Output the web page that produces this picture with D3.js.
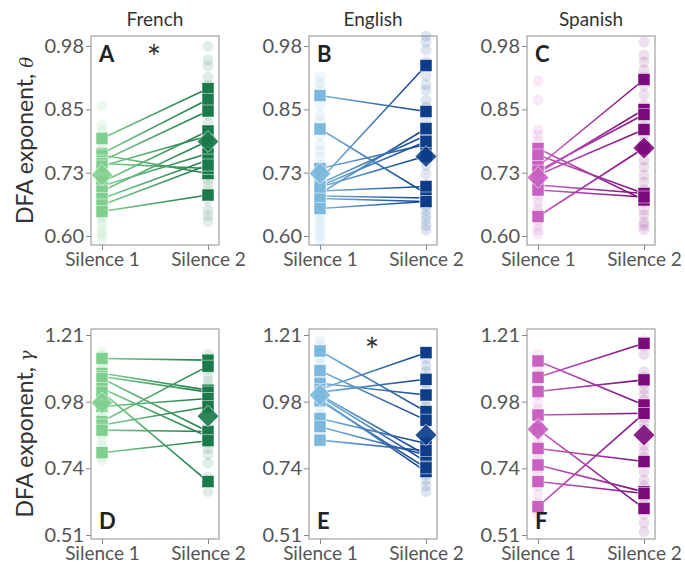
<!DOCTYPE html>
<html lang="en">
<head>
<meta charset="UTF-8">
<title>DFA exponents</title>
<script src="https://cdn.jsdelivr.net/npm/d3@7"></script>
<style>
  body { margin: 0; background: #fff; }
  text { font-family: Lato, "Open Sans", sans-serif; }
</style>
</head>
<body>
<script>
// ---- data ----
var conditions = ["Silence 1", "Silence 2"];
var languages = ["French", "English", "Spanish"];
var thetaTicks = [0.60, 0.7267, 0.8533, 0.98];
var gammaTicks = [0.51, 0.7433, 0.9767, 1.21];

// theta, subjects (Silence 1 / Silence 2)
var frTheta1 = [0.795, 0.765, 0.762, 0.750, 0.745, 0.740, 0.708, 0.700, 0.690, 0.675, 0.662, 0.649];
var frTheta2 = [0.895, 0.873, 0.725, 0.850, 0.735, 0.800, 0.810, 0.765, 0.790, 0.752, 0.742, 0.682];
var enTheta1 = [0.881, 0.814, 0.735, 0.712, 0.705, 0.700, 0.690, 0.685, 0.680, 0.675, 0.655, 0.698];
var enTheta2 = [0.849, 0.685, 0.783, 0.941, 0.801, 0.789, 0.699, 0.815, 0.676, 0.669, 0.669, 0.760];
var esTheta1 = [0.775, 0.762, 0.739, 0.726, 0.722, 0.702, 0.692, 0.639, 0.730];
var esTheta2 = [0.672, 0.685, 0.913, 0.853, 0.813, 0.685, 0.678, 0.776, 0.843];
// gamma
var frGamma1 = [1.128, 1.076, 1.065, 1.058, 1.023, 1.010, 0.960, 0.907, 0.895, 0.877, 0.798];
var frGamma2 = [1.122, 1.017, 1.010, 0.872, 0.854, 0.697, 0.988, 1.101, 0.959, 0.872, 0.840];
var enGamma1 = [1.154, 1.085, 1.041, 1.020, 1.010, 1.000, 0.995, 0.985, 0.980, 0.918, 0.889, 0.842];
var enGamma2 = [0.942, 0.912, 1.000, 1.148, 1.055, 0.790, 0.767, 0.732, 0.745, 0.830, 0.790, 0.805];
var esGamma1 = [1.119, 1.062, 1.012, 0.930, 0.880, 0.813, 0.755, 0.697, 0.609];
var esGamma2 = [0.965, 1.181, 1.053, 0.936, 0.603, 0.767, 0.661, 0.655, 0.936];

// group means (diamonds)
var frThetaMean = [0.722, 0.789];
var enThetaMean = [0.725, 0.759];
var esThetaMean = [0.717, 0.776];
var frGammaMean = [0.973, 0.926];
var enGammaMean = [1.000, 0.860];
var esGammaMean = [0.880, 0.860];

// individual trials (faint circles)
var frThetaTrials1 = [0.86, 0.822, 0.81, 0.80, 0.788, 0.776, 0.768, 0.755, 0.742, 0.73, 0.718, 0.71, 0.697, 0.688, 0.676, 0.668, 0.655, 0.642, 0.634, 0.625, 0.612, 0.604, 0.595];
var frThetaTrials2 = [0.98, 0.952, 0.94, 0.918, 0.902, 0.884, 0.861, 0.842, 0.826, 0.812, 0.798, 0.782, 0.771, 0.758, 0.744, 0.722, 0.712, 0.703, 0.69, 0.672, 0.652, 0.641, 0.63];
var enThetaTrials1 = [0.918, 0.906, 0.893, 0.862, 0.843, 0.828, 0.802, 0.784, 0.772, 0.758, 0.742, 0.724, 0.712, 0.694, 0.672, 0.662, 0.646, 0.634, 0.622, 0.612, 0.601, 0.59];
var enThetaTrials2 = [1.0, 0.988, 0.972, 0.948, 0.921, 0.903, 0.892, 0.871, 0.858, 0.832, 0.806, 0.782, 0.764, 0.742, 0.724, 0.703, 0.684, 0.662, 0.652, 0.641, 0.632, 0.621, 0.612];
var esThetaTrials1 = [0.91, 0.872, 0.812, 0.802, 0.79, 0.768, 0.742, 0.728, 0.712, 0.702, 0.688, 0.679, 0.668, 0.656, 0.648, 0.632, 0.621, 0.612, 0.604];
var esThetaTrials2 = [0.988, 0.962, 0.948, 0.932, 0.918, 0.901, 0.882, 0.862, 0.848, 0.831, 0.818, 0.802, 0.788, 0.768, 0.752, 0.738, 0.722, 0.708, 0.692, 0.668, 0.652, 0.642, 0.628, 0.621, 0.613];
var frGammaTrials1 = [1.152, 1.138, 1.118, 1.098, 1.082, 1.061, 1.042, 1.022, 1.003, 0.982, 0.961, 0.942, 0.921, 0.902, 0.884, 0.862, 0.842, 0.823, 0.801, 0.784, 0.772];
var frGammaTrials2 = [1.142, 1.128, 1.108, 1.092, 1.068, 1.048, 1.031, 1.012, 0.992, 0.968, 0.951, 0.932, 0.912, 0.892, 0.868, 0.851, 0.832, 0.812, 0.792, 0.762, 0.712, 0.694, 0.662];
var enGammaTrials1 = [1.19, 1.172, 1.152, 1.128, 1.111, 1.088, 1.071, 1.048, 1.031, 1.012, 0.992, 0.971, 0.952, 0.931, 0.912, 0.892, 0.871, 0.852];
var enGammaTrials2 = [1.152, 1.128, 1.102, 1.082, 1.061, 1.042, 1.021, 1.002, 0.982, 0.961, 0.942, 0.921, 0.902, 0.881, 0.862, 0.842, 0.821, 0.802, 0.781, 0.762, 0.741, 0.722, 0.702, 0.682, 0.662];
var esGammaTrials1 = [1.142, 1.122, 1.098, 1.071, 1.052, 1.031, 1.002, 0.972, 0.951, 0.922, 0.902, 0.872, 0.842, 0.822, 0.792, 0.772, 0.742, 0.722, 0.702, 0.682, 0.652, 0.622, 0.601, 0.582];
var esGammaTrials2 = [1.19, 1.172, 1.142, 1.082, 1.062, 1.041, 1.021, 1.002, 0.982, 0.961, 0.942, 0.921, 0.902, 0.882, 0.852, 0.822, 0.802, 0.782, 0.762, 0.732, 0.702, 0.682, 0.662, 0.642, 0.622, 0.601, 0.582, 0.552, 0.522];

var palette = {
  French:  ["#7fcf8e", "#1b7a49"],
  English: ["#7cb8de", "#0b3d8b"],
  Spanish: ["#c860c2", "#7b0a7c"]
};

var panels = [
  {id: "A", lang: "French",  row: 0, s1: frTheta1, s2: frTheta2, mean: frThetaMean, t1: frThetaTrials1, t2: frThetaTrials2, star: true},
  {id: "B", lang: "English", row: 0, s1: enTheta1, s2: enTheta2, mean: enThetaMean, t1: enThetaTrials1, t2: enThetaTrials2},
  {id: "C", lang: "Spanish", row: 0, s1: esTheta1, s2: esTheta2, mean: esThetaMean, t1: esThetaTrials1, t2: esThetaTrials2},
  {id: "D", lang: "French",  row: 1, s1: frGamma1, s2: frGamma2, mean: frGammaMean, t1: frGammaTrials1, t2: frGammaTrials2},
  {id: "E", lang: "English", row: 1, s1: enGamma1, s2: enGamma2, mean: enGammaMean, t1: enGammaTrials1, t2: enGammaTrials2, star: true},
  {id: "F", lang: "Spanish", row: 1, s1: esGamma1, s2: esGamma2, mean: esGammaMean, t1: esGammaTrials1, t2: esGammaTrials2}
];

// ---- layout ----
var width = 685, height = 566;
var colLeft = [91, 309, 527];
var boxW = 128;
var rows = [
  {top: 36,  bottom: 245, domain: [0.582, 1.0],   ticks: thetaTicks, sym: "\u03b8"},
  {top: 329, bottom: 539, domain: [0.496, 1.231], ticks: gammaTicks, sym: "\u03b3"}
];

var svg = d3.select("body").append("svg")
  .attr("width", width)
  .attr("height", height);

var defs = svg.append("defs");

var x = d3.scalePoint().domain(conditions).range([11, 117]);

// column titles
languages.forEach(function(l, i) {
  svg.append("text")
    .attr("x", colLeft[i] + boxW / 2)
    .attr("y", 26)
    .attr("text-anchor", "middle")
    .attr("font-size", 19)
    .attr("fill", "#333")
    .text(l);
});

// y axis titles
rows.forEach(function(r) {
  var t = svg.append("text")
    .attr("transform", "translate(33," + ((r.top + r.bottom) / 2) + ") rotate(-90)")
    .attr("text-anchor", "middle")
    .attr("font-size", 23)
    .attr("fill", "#333");
  t.append("tspan").text("DFA exponent, ");
  t.append("tspan").attr("font-family", "DejaVu Serif").attr("font-style", "italic").attr("font-size", 18).text(r.sym);
});

panels.forEach(function(p, i) {
  var col = i % 3;
  var r = rows[p.row];
  var c = palette[p.lang];
  var g = svg.append("g").attr("transform", "translate(" + colLeft[col] + ",0)");

  var y = d3.scaleLinear().domain(r.domain).range([r.bottom, r.top]);

  // frame
  g.append("rect")
    .attr("x", 0).attr("y", r.top)
    .attr("width", boxW).attr("height", r.bottom - r.top)
    .attr("fill", "none").attr("stroke", "#a0a0a0").attr("stroke-width", 1.2);

  // y axis
  var ya = g.append("g").call(d3.axisLeft(y).tickValues(r.ticks).tickFormat(d3.format(".2f")).tickSize(5).tickPadding(2));
  ya.select(".domain").remove();
  ya.selectAll(".tick line").attr("stroke", "#888");
  ya.selectAll(".tick text").attr("font-size", 20).attr("fill", "#555").attr("font-family", "Lato, sans-serif");

  // x axis
  var xa = g.append("g").attr("transform", "translate(0," + r.bottom + ")")
    .call(d3.axisBottom(x).tickSize(5).tickPadding(3));
  xa.select(".domain").remove();
  xa.selectAll(".tick line").attr("stroke", "#888");
  xa.selectAll(".tick text").attr("font-size", 19).attr("fill", "#555").attr("font-family", "Lato, sans-serif");

  // gradient for lines
  var gid = "grad" + p.id;
  var grad = defs.append("linearGradient").attr("id", gid)
    .attr("gradientUnits", "userSpaceOnUse")
    .attr("x1", x(conditions[0])).attr("x2", x(conditions[1]))
    .attr("y1", 0).attr("y2", 0);
  grad.append("stop").attr("offset", "0%").attr("stop-color", c[0]);
  grad.append("stop").attr("offset", "100%").attr("stop-color", c[1]);

  // faint trial circles
  [p.t1, p.t2].forEach(function(arr, k) {
    g.selectAll(null).data(arr).enter().append("circle")
      .attr("cx", x(conditions[k]))
      .attr("cy", function(d) { return y(d); })
      .attr("r", 5.5)
      .attr("fill", c[k])
      .attr("fill-opacity", 0.13);
  });

  // subject lines
  var pairs = p.s1.map(function(v, j) { return [v, p.s2[j]]; });
  g.selectAll(null).data(pairs).enter().append("line")
    .attr("x1", x(conditions[0])).attr("x2", x(conditions[1]))
    .attr("y1", function(d) { return y(d[0]); })
    .attr("y2", function(d) { return y(d[1]); })
    .attr("stroke", "url(#" + gid + ")")
    .attr("stroke-width", 1.6);

  // subject squares
  [p.s1, p.s2].forEach(function(arr, k) {
    g.selectAll(null).data(arr).enter().append("rect")
      .attr("x", x(conditions[k]) - 6)
      .attr("y", function(d) { return y(d) - 6; })
      .attr("width", 12).attr("height", 12)
      .attr("fill", c[k])
      .attr("stroke", "#fff").attr("stroke-width", 0.6).attr("stroke-opacity", 0.8);
  });

  // mean diamonds
  p.mean.forEach(function(m, k) {
    g.append("path")
      .attr("d", d3.symbol().type(d3.symbolDiamond2).size(300)())
      .attr("transform", "translate(" + x(conditions[k]) + "," + y(m) + ")")
      .attr("fill", c[k])
      .attr("fill-opacity", 0.9)
      .attr("stroke", "#fff").attr("stroke-opacity", 0.6).attr("stroke-width", 1);
  });

  // panel letter
  var letterY = p.row === 0 ? r.top + 26 : r.bottom - 10;
  g.append("text")
    .attr("x", 8).attr("y", letterY)
    .attr("font-size", 22).attr("font-weight", "bold")
    .attr("fill", "#222")
    .attr("font-family", "Roboto, sans-serif")
    .text(p.id);

  if (p.star) {
    g.append("text")
      .attr("x", 63)
      .attr("y", r.top + 34)
      .attr("text-anchor", "middle")
      .attr("font-size", 34)
      .attr("fill", "#333")
      .attr("font-family", "DejaVu Sans, sans-serif")
      .text("*");
  }
});
</script>
</body>
</html>
